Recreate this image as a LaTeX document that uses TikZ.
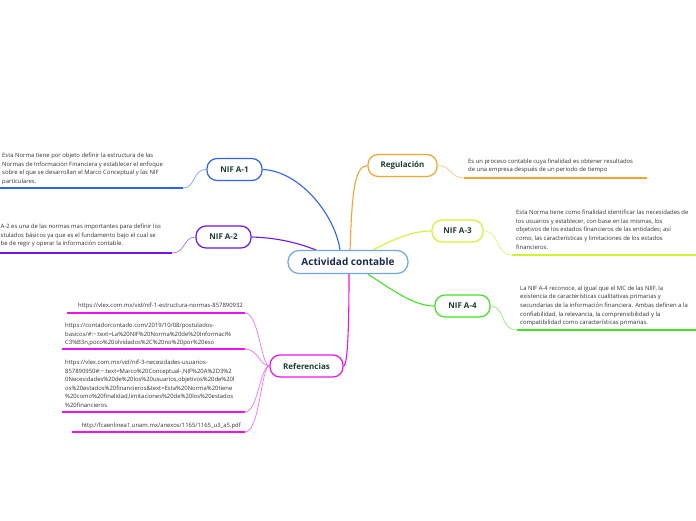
\documentclass[tikz,border=0pt]{standalone}
\usepackage{fontspec}
\setsansfont{Open Sans}
\usepackage{xcolor}
\usetikzlibrary{calc,backgrounds}
\definecolor{actblue}{HTML}{6FA8DC}
\definecolor{actink}{HTML}{1B2A4E}
\definecolor{topicink}{HTML}{1E3D36}
\definecolor{noteink}{HTML}{333333}
\definecolor{nifblue}{HTML}{2F62F0}
\definecolor{nifpurple}{HTML}{6E17E6}
\definecolor{regorange}{HTML}{F5A431}
\definecolor{nifyellow}{HTML}{D6F033}
\definecolor{nifgreen}{HTML}{42E41F}
\definecolor{refmagenta}{HTML}{EC14EC}
\newcommand{\notefont}{\sffamily\fontsize{5.9}{8.6}\selectfont}

\begin{document}
\begin{tikzpicture}[x=1pt,y=-1pt,
  topic/.style={draw,fill=white,rounded corners=10pt,line width=1.2pt,
    text=topicink,font=\sffamily\bfseries\fontsize{8}{9}\selectfont,
    minimum height=22pt,inner sep=2pt},
  note/.style={font=\notefont,text=noteink,align=left,inner sep=0pt,anchor=north west},
  branch/.style={line width=1.1pt},
  uline/.style={line width=1.8pt},
  twig/.style={line width=0.7pt}]
  \useasboundingbox (0,0) rectangle (696,520);

  % topics
  \node[topic,draw=actblue,text=actink,font=\sffamily\bfseries\fontsize{10}{12}\selectfont,
    minimum width=120pt,minimum height=23pt,rounded corners=11pt] (act) at (348,262) {Actividad contable};
  \node[topic,draw=nifblue,minimum width=55pt] (nifa1) at (234.5,169.5) {NIF A-1};
  \node[topic,draw=nifpurple,minimum width=55pt] (nifa2) at (223.5,237) {NIF A-2};
  \node[topic,draw=regorange,minimum width=69pt] (reg) at (402.5,165.5) {Regulación};
  \node[topic,draw=nifyellow,minimum width=51pt] (nifa3) at (457.5,231) {NIF A-3};
  \node[topic,draw=nifgreen,minimum width=55pt] (nifa4) at (462.5,306) {NIF A-4};
  \node[topic,draw=refmagenta,minimum width=73pt] (refs) at (306.5,366) {Referencias};

  % notes
  \node[note] (t1) at (2,153) {Esta Norma tiene por objeto definir la estructura de las\\
    Normas de Información Financiera y establecer el enfoque\\
    sobre el que se desarrollan el Marco Conceptual y las NIF\\
    particulares.};
  \node[note] (t2) at (0.5,224) {A-2 es una de las normas mas importantes para definir los\\
    stulados básicos ya que es el fundamento bajo el cual se\\
    be de regir y operar la información contable.};
  \node[note] (treg) at (468,158.3) {Es un proceso contable cuya finalidad es obtener resultados\\
    de una empresa después de un periodo de tiempo};
  \node[note] (t3) at (516,210) {Esta Norma tiene como finalidad identificar las necesidades de\\
    los usuarios y establecer, con base en las mismas, los\\
    objetivos de los estados financieros de las entidades; así\\
    como, las características y limitaciones de los estados\\
    financieros.};
  \node[note] (t4) at (520,285.7) {La NIF A-4 reconoce, al igual que el MC de las NIIF, la\\
    existencia de características cualitativas primarias y\\
    secundarias de la información financiera. Ambas definen a la\\
    confiabilidad, la relevancia, la comprensibilidad y la\\
    compatibilidad como características primarias.};
  \node[note,anchor=north east] (ref1) at (243,302.3) {https://vlex.com.mx/vid/nif-1-estructura-normas-857890932};
  \node[note] (ref2) at (65,323) {https://contadorcontado.com/2019/10/08/postulados-\\
    basicos/\#:\textasciitilde:text=La\%20NIF\%20Norma\%20de\%20Informaci\%\\
    C3\%B3n,poco\%20olvidados\%2C\%20no\%20por\%20eso};
  \node[note] (ref3) at (65,359.7) {https://vlex.com.mx/vid/nif-3-necesidades-usuarios-\\
    857890950\#:\textasciitilde:text=Marco\%20Conceptual-,NIF\%20A\%2D3\%2\\
    0Necesidades\%20de\%20los\%20usuarios,objetivos\%20de\%20l\\
    os\%20estados\%20financieros\&text=Esta\%20Norma\%20tiene\\
    \%20como\%20finalidad,limitaciones\%20de\%20los\%20estados\\
    \%20financieros};
  \node[note,anchor=north east] (ref4) at (241,422.3) {http://fcaenlinea1.unam.mx/anexos/1165/1165\_u3\_a5.pdf};

  % underline ends
  \coordinate (u1a) at (0,188);   \coordinate (u1b) at (183,188);
  \coordinate (u2a) at (0,253);   \coordinate (u2b) at (172,253);
  \coordinate (urega) at (464,178); \coordinate (uregb) at (647,178);
  \coordinate (u3a) at (512,255); \coordinate (u3b) at (696,255);
  \coordinate (u4a) at (517,330); \coordinate (u4b) at (696,330);
  \coordinate (r1a) at (67,313);  \coordinate (r1) at (245,313);
  \coordinate (r2a) at (62,349);  \coordinate (r2) at (245,349);
  \coordinate (r3a) at (62,412);  \coordinate (r3) at (245,412);
  \coordinate (r4a) at (72,432);  \coordinate (r4) at (245,432);

  \draw[uline,nifblue] (u1a) -- (u1b);
  \draw[uline,nifpurple] (u2a) -- (u2b);
  \draw[uline,regorange] (urega) -- (uregb);
  \draw[uline,nifyellow] (u3a) -- (u3b);
  \draw[uline,nifgreen] (u4a) -- (u4b);
  \foreach \r in {r1,r2,r3,r4}{\draw[uline,refmagenta] (\r a) -- (\r);}

  \draw[twig,nifblue!60] (u1b) .. controls (196,188) and (192,169.5) .. (nifa1.west);
  \draw[twig,nifpurple!60] (u2b) .. controls (186,253) and (183,237) .. (nifa2.west);
  \draw[twig,regorange!60] (reg.east) .. controls (452,165.5) and (450,178) .. (urega);
  \draw[twig,nifyellow!70] (nifa3.east) .. controls (500,231) and (495,255) .. (u3a);
  \draw[twig,nifgreen!60] (nifa4.east) .. controls (505,306) and (500,330) .. (u4a);
  \draw[twig,refmagenta!60] (refs.west) .. controls (261,366) and (259,313) .. (r1);
  \draw[twig,refmagenta!60] (refs.west) .. controls (260,366) and (258,349) .. (r2);
  \draw[twig,refmagenta!60] (refs.west) .. controls (260,366) and (258,412) .. (r3);
  \draw[twig,refmagenta!60] (refs.west) .. controls (261,366) and (260,432) .. (r4);

  % branches
  \begin{scope}[on background layer]
    \fill[white] (0,0) rectangle (696,520);
    \draw[branch,nifblue] ([xshift=-8pt]act.north) .. controls (335,215) and (300,171) .. (nifa1.east);
    \draw[branch,nifpurple] ([xshift=-32pt]act.north) .. controls (305,246) and (285,238) .. (nifa2.east);
    \draw[branch,regorange] ([xshift=2pt]act.north) .. controls (352,195) and (354,166) .. (reg.west);
    \draw[branch,nifyellow] ([xshift=25pt]act.north) .. controls (400,236) and (415,231) .. (nifa3.west);
    \draw[branch,nifgreen] ([xshift=20pt]act.south) .. controls (395,292) and (415,306) .. (nifa4.west);
    \draw[branch,refmagenta] ([xshift=1pt]act.south) .. controls (349,320) and (348,366) .. (refs.east);
  \end{scope}
\end{tikzpicture}
\end{document}
